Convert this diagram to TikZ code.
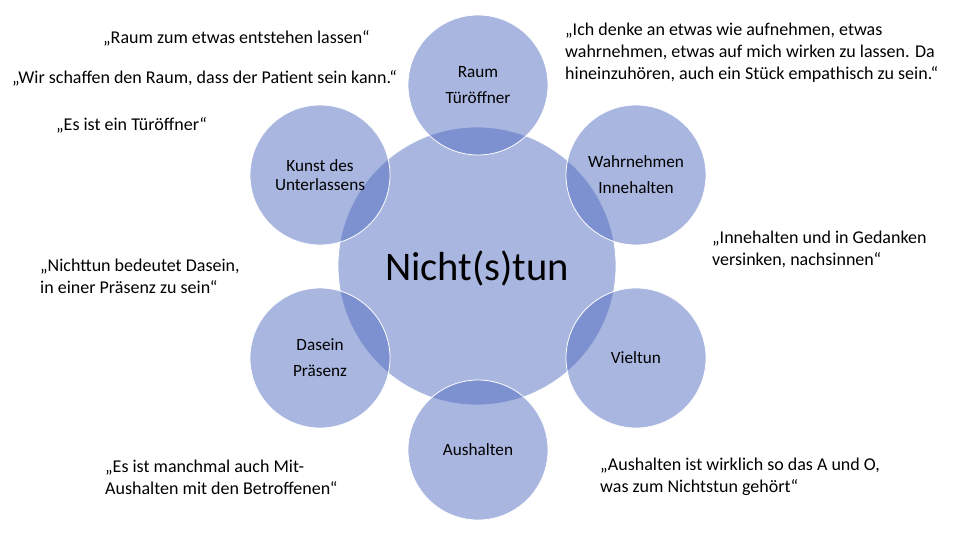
\documentclass[tikz,border=0pt]{standalone}
\usepackage{fontspec}
\setmainfont{Carlito}
\definecolor{circfill}{RGB}{83,109,193}
\begin{document}
\begin{tikzpicture}[x=1pt,y=-1pt,
  bubble/.style={circle, fill=circfill, fill opacity=0.5, draw=white, line width=0.8pt, inner sep=0pt},
  lbl/.style={align=center, font=\fontsize{17.2}{26}\selectfont, text=black},
  quote/.style={anchor=west, align=left, font=\fontsize{18}{22}\selectfont, text=black, inner sep=0pt}]
\useasboundingbox (0,0) rectangle (960,540);
\node[bubble, minimum size=278pt] (c) at (477,266) {};
\node[bubble, minimum size=140pt] (s1) at (478,85) {};
\node[bubble, minimum size=140pt] (s2) at (636,175) {};
\node[bubble, minimum size=140pt] (s3) at (636,358) {};
\node[bubble, minimum size=140pt] (s4) at (478,450) {};
\node[bubble, minimum size=140pt] (s5) at (320,358) {};
\node[bubble, minimum size=140pt] (s6) at (320,175) {};
\node[font=\fontsize{40.6}{48}\selectfont] (ct) at (477,268) {Nicht(s)tun};
\node[lbl] (t1) at (s1) {Raum\\Türöffner};
\node[lbl] (t2) at (s2) {Wahrnehmen\\Innehalten};
\node[lbl] (t3) at (s3) {Vieltun};
\node[lbl] (t4) at (s4) {Aushalten};
\node[lbl] (t5) at (s5) {Dasein\\Präsenz};
\node[lbl, font=\fontsize{17.2}{19.5}\selectfont] (t6) at (s6) {Kunst des\\Unterlassens};
\node[quote] (q1) at (103,38) {„Raum zum etwas entstehen lassen“};
\node[quote] (q2) at (12,78) {„Wir schaffen den Raum, dass der Patient sein kann.“};
\node[quote] (q3) at (56,125) {„Es ist ein Türöffner“};
\node[quote] (q4) at (565,53) {„Ich denke an etwas wie aufnehmen, etwas\\wahrnehmen, etwas auf mich wirken zu lassen. Da\\hineinzuhören, auch ein Stück empathisch zu sein.“};
\node[quote] (q5) at (712,249) {„Innehalten und in Gedanken\\versinken, nachsinnen“};
\node[quote] (q6) at (40,276) {„Nichttun bedeutet Dasein,\\in einer Präsenz zu sein“};
\node[quote] (q7) at (105,477) {„Es ist manchmal auch Mit-\\Aushalten mit den Betroffenen“};
\node[quote] (q8) at (600,477) {„Aushalten ist wirklich so das A und O,\\was zum Nichtstun gehört“};
\end{tikzpicture}
\end{document}
